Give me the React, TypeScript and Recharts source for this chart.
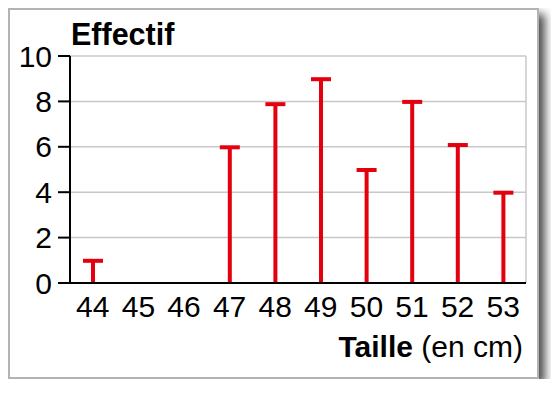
import React from 'react';
import { BarChart, Bar, XAxis, YAxis, CartesianGrid, Label } from 'recharts';

// Effectif par taille (cm)
const TAILLES = ['44', '45', '46', '47', '48', '49', '50', '51', '52', '53'];
const EFFECTIFS = [1, 0, 0, 6, 7.9, 9, 5, 8, 6.1, 4];
const Y_TICKS = [0, 2, 4, 6, 8, 10];

const data = TAILLES.map((taille, i) => ({ taille, effectif: EFFECTIFS[i] }));

const FONT = '"Liberation Sans", Arial, Helvetica, sans-serif';
const RED = '#e3000f';
const TICK = { fill: '#000', fontSize: 30, fontFamily: FONT } as const;

// tige verticale + barre de tête en "T"
function Stem(props: any) {
  const { x, y, width, height, fill } = props;
  if (!height || height <= 0) return null;
  const cx = x + width / 2;
  return (
    <g>
      <rect x={cx - 2} y={y} width={4} height={height} fill={fill} />
      <rect x={x} y={y - 1.5} width={width} height={4} fill={fill} />
    </g>
  );
}

function YTitle({ viewBox }: any) {
  if (!viewBox) return null;
  return (
    <text
      x={viewBox.x + viewBox.width + 1}
      y={viewBox.y - 11.5}
      fontFamily={FONT}
      fontSize={30.5}
      fontWeight="bold"
      fill="#000"
    >
      Effectif
    </text>
  );
}

function XTitle({ viewBox }: any) {
  if (!viewBox) return null;
  return (
    <text
      x={viewBox.x + viewBox.width - 3}
      y={viewBox.y + 73.5}
      textAnchor="end"
      fontFamily={FONT}
      fontSize={30}
      fill="#000"
    >
      <tspan fontWeight="bold">Taille</tspan>
      <tspan> (en cm)</tspan>
    </text>
  );
}

export default function App() {
  return (
    <div
      style={{
        position: 'relative',
        width: 527,
        height: 367,
        border: '2px solid #b3b3b3',
        background: '#fff',
        boxShadow: '6px 6px 9px rgba(0,0,0,0.7)',
      }}
    >
      <BarChart
        width={527}
        height={367}
        data={data}
        margin={{ top: 46, right: 11, left: 0, bottom: 0 }}
        barSize={20}
      >
        <CartesianGrid
          stroke="#c8c8c8"
          strokeWidth={1.5}
          verticalCoordinatesGenerator={(p: any) => [
            p && p.offset ? p.offset.left + p.offset.width : 516,
          ]}
        />
        <XAxis
          dataKey="taille"
          interval={0}
          tickLine={false}
          tickSize={8}
          tickMargin={5}
          axisLine={{ stroke: '#000', strokeWidth: 2 }}
          tick={TICK}
          height={94}
        >
          <Label content={<XTitle />} />
        </XAxis>
        <YAxis
          domain={[0, 10]}
          ticks={Y_TICKS}
          width={60}
          tickSize={12}
          tickMargin={6}
          axisLine={{ stroke: '#000', strokeWidth: 2 }}
          tickLine={{ stroke: '#000', strokeWidth: 2 }}
          tick={TICK}
        >
          <Label content={<YTitle />} />
        </YAxis>
        <Bar dataKey="effectif" fill={RED} shape={<Stem />} isAnimationActive={false} />
      </BarChart>
    </div>
  );
}
